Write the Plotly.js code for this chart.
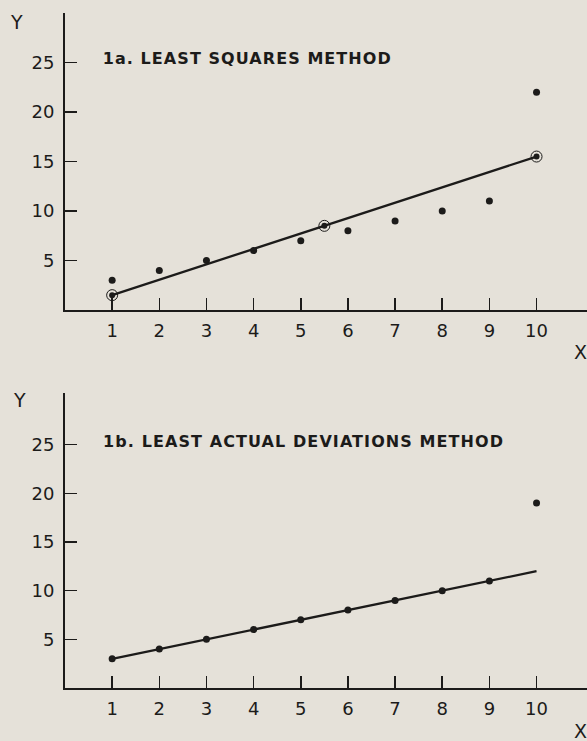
<!DOCTYPE html>
<html>
<head>
<meta charset="utf-8">
<script src="https://cdn.plot.ly/plotly-3.0.1.min.js"></script>
<style>
html,body{margin:0;padding:0;background:#e5e1d9;}
#chart{width:587px;height:741px;}
</style>
</head>
<body>
<div id="chart"></div>
<script>
// Data
const xValues = [1, 2, 3, 4, 5, 6, 7, 8, 9, 10];
const topY = [3, 4, 5, 6, 7, 8, 9, 10, 11, 22];
const lsqX = [1, 5.5, 10];
const lsqY = [1.5, 8.5, 15.5];
const bottomY = [3, 4, 5, 6, 7, 8, 9, 10, 11, 19];
const ladX = [1, 10];
const ladY = [3, 12];
const xTicks = [1, 2, 3, 4, 5, 6, 7, 8, 9, 10];
const yTicks = [5, 10, 15, 20, 25];
const titleTop = "1a. LEAST SQUARES METHOD";
const titleBottom = "1b. LEAST ACTUAL DEVIATIONS METHOD";

const ink = "#1c1b1a";
const bg = "#e5e1d9";
const tickFont = {family: "'DejaVu Sans', sans-serif", size: 18, color: ink};

const traces = [
  {x: xValues, y: topY, type: "scatter", mode: "markers", xaxis: "x", yaxis: "y",
   marker: {size: 7, color: ink}, hoverinfo: "none"},
  {x: lsqX, y: lsqY, type: "scatter", mode: "lines", xaxis: "x", yaxis: "y",
   line: {color: ink, width: 2.3}, hoverinfo: "none"},
  {x: lsqX, y: lsqY, type: "scatter", mode: "markers", xaxis: "x", yaxis: "y",
   marker: {symbol: "circle-open", size: 11, color: ink, line: {width: 1, color: ink}}, hoverinfo: "none"},
  {x: lsqX, y: lsqY, type: "scatter", mode: "markers", xaxis: "x", yaxis: "y",
   marker: {size: 6, color: ink}, hoverinfo: "none"},
  {x: ladX, y: ladY, type: "scatter", mode: "lines", xaxis: "x2", yaxis: "y2",
   line: {color: ink, width: 2.3}, hoverinfo: "none"},
  {x: xValues, y: bottomY, type: "scatter", mode: "markers", xaxis: "x2", yaxis: "y2",
   marker: {size: 7, color: ink}, hoverinfo: "none"}
];

function xAxis(anchor) {
  return {anchor: anchor, domain: [0, 1], range: [0, 11.07], showgrid: false, zeroline: false,
    showline: true, linecolor: ink, linewidth: 2, ticks: "inside", ticklen: 12, tickwidth: 1.5,
    tickcolor: ink, tickvals: xTicks, ticktext: xTicks.map(String), tickfont: tickFont,
    ticklabelstandoff: 3, fixedrange: true};
}
function yAxis(anchor, domain, top) {
  return {anchor: anchor, domain: domain, range: [0, top], showgrid: false, zeroline: false,
    showline: true, linecolor: ink, linewidth: 2, ticks: "inside", ticklen: 12, tickwidth: 1.5,
    tickcolor: ink, tickvals: yTicks, ticktext: yTicks.map(String), tickfont: tickFont,
    ticklabelstandoff: 5, fixedrange: true};
}

const labelFont = {family: "'DejaVu Sans', sans-serif", size: 19, color: ink};
const titleFont = {family: "'DejaVu Sans', sans-serif", size: 16, color: ink, weight: "bold"};

const layout = {
  width: 587, height: 741,
  paper_bgcolor: bg, plot_bgcolor: bg,
  margin: {l: 65, r: 0, t: 13, b: 53},
  showlegend: false,
  xaxis: xAxis("y"),
  yaxis: yAxis("x", [0.56, 1], 30),
  xaxis2: xAxis("y2"),
  yaxis2: yAxis("x2", [0, 0.437], 30.3),
  annotations: [
    {text: titleTop, xref: "x", yref: "y", x: 3.85, y: 25.4, xanchor: "center", yanchor: "middle",
     showarrow: false, font: titleFont},
    {text: titleBottom, xref: "x2", yref: "y2", x: 5.04, y: 25.3, xanchor: "center", yanchor: "middle",
     showarrow: false, font: titleFont},
    {text: "Y", xref: "paper", yref: "paper", x: -0.092, y: 0.986, xanchor: "center", yanchor: "middle",
     showarrow: false, font: labelFont},
    {text: "Y", xref: "paper", yref: "paper", x: -0.088, y: 0.4267, xanchor: "center", yanchor: "middle",
     showarrow: false, font: labelFont},
    {text: "X", xref: "paper", yref: "paper", x: 0.9885, y: 0.498, xanchor: "center", yanchor: "middle",
     showarrow: false, font: labelFont},
    {text: "X", xref: "paper", yref: "paper", x: 0.9885, y: -0.064, xanchor: "center", yanchor: "middle",
     showarrow: false, font: labelFont}
  ]
};

Plotly.newPlot("chart", traces, layout, {displayModeBar: false, staticPlot: true}).then(function () {
  // widen the letter spacing of the two panel titles as in the printed figure
  const widths = {};
  widths[titleTop] = 288;
  widths[titleBottom] = 400;
  document.querySelectorAll(".annotation-text").forEach(function (t) {
    const w = widths[t.textContent];
    if (w) {
      t.setAttribute("textLength", w);
      t.setAttribute("lengthAdjust", "spacing");
    }
  });
});
</script>
</body>
</html>
